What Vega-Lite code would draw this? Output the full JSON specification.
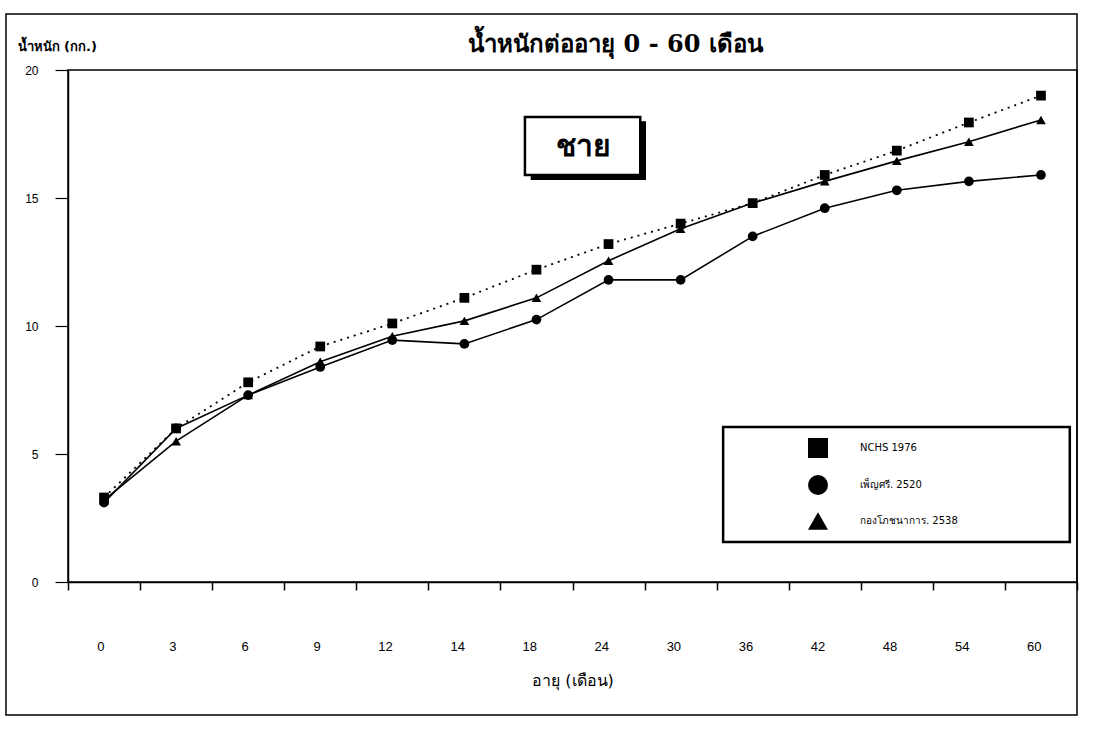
{
  "$schema": "https://vega.github.io/schema/vega-lite/v6.json",
  "width": 1009,
  "height": 512,
  "autosize": {"type": "none"},
  "padding": {"left": 68, "top": 70, "right": 30, "bottom": 148},
  "background": "white",
  "title": {
    "text": "น้ำหนักต่ออายุ 0 - 60 เดือน",
    "font": "DejaVu Serif",
    "fontSize": 24,
    "fontWeight": "bold",
    "color": "black",
    "anchor": "middle",
    "frame": "group",
    "dx": 43,
    "dy": 54,
    "offset": 10
  },
  "config": {
    "view": {"stroke": "black", "strokeWidth": 1.5},
    "axis": {"domainColor": "black", "tickColor": "black", "labelColor": "black", "titleColor": "black", "grid": false}
  },
  "datasets": {
    "weights": [
      {"age": 0, "series": "NCHS 1976", "kg": 3.3},
      {"age": 3, "series": "NCHS 1976", "kg": 6.0},
      {"age": 6, "series": "NCHS 1976", "kg": 7.8},
      {"age": 9, "series": "NCHS 1976", "kg": 9.2},
      {"age": 12, "series": "NCHS 1976", "kg": 10.1},
      {"age": 14, "series": "NCHS 1976", "kg": 11.1},
      {"age": 18, "series": "NCHS 1976", "kg": 12.2},
      {"age": 24, "series": "NCHS 1976", "kg": 13.2},
      {"age": 30, "series": "NCHS 1976", "kg": 14.0},
      {"age": 36, "series": "NCHS 1976", "kg": 14.8},
      {"age": 42, "series": "NCHS 1976", "kg": 15.9},
      {"age": 48, "series": "NCHS 1976", "kg": 16.85},
      {"age": 54, "series": "NCHS 1976", "kg": 17.95},
      {"age": 60, "series": "NCHS 1976", "kg": 19.0},
      {"age": 0, "series": "เพ็ญศรี. 2520", "kg": 3.1},
      {"age": 3, "series": "เพ็ญศรี. 2520", "kg": 6.0},
      {"age": 6, "series": "เพ็ญศรี. 2520", "kg": 7.3},
      {"age": 9, "series": "เพ็ญศรี. 2520", "kg": 8.4},
      {"age": 12, "series": "เพ็ญศรี. 2520", "kg": 9.45},
      {"age": 14, "series": "เพ็ญศรี. 2520", "kg": 9.3},
      {"age": 18, "series": "เพ็ญศรี. 2520", "kg": 10.25},
      {"age": 24, "series": "เพ็ญศรี. 2520", "kg": 11.8},
      {"age": 30, "series": "เพ็ญศรี. 2520", "kg": 11.8},
      {"age": 36, "series": "เพ็ญศรี. 2520", "kg": 13.5},
      {"age": 42, "series": "เพ็ญศรี. 2520", "kg": 14.6},
      {"age": 48, "series": "เพ็ญศรี. 2520", "kg": 15.3},
      {"age": 54, "series": "เพ็ญศรี. 2520", "kg": 15.65},
      {"age": 60, "series": "เพ็ญศรี. 2520", "kg": 15.9},
      {"age": 0, "series": "กองโภชนาการ. 2538", "kg": 3.2},
      {"age": 3, "series": "กองโภชนาการ. 2538", "kg": 5.5},
      {"age": 6, "series": "กองโภชนาการ. 2538", "kg": 7.3},
      {"age": 9, "series": "กองโภชนาการ. 2538", "kg": 8.6},
      {"age": 12, "series": "กองโภชนาการ. 2538", "kg": 9.6},
      {"age": 14, "series": "กองโภชนาการ. 2538", "kg": 10.2},
      {"age": 18, "series": "กองโภชนาการ. 2538", "kg": 11.1},
      {"age": 24, "series": "กองโภชนาการ. 2538", "kg": 12.55},
      {"age": 30, "series": "กองโภชนาการ. 2538", "kg": 13.8},
      {"age": 36, "series": "กองโภชนาการ. 2538", "kg": 14.8},
      {"age": 42, "series": "กองโภชนาการ. 2538", "kg": 15.65},
      {"age": 48, "series": "กองโภชนาการ. 2538", "kg": 16.45},
      {"age": 54, "series": "กองโภชนาการ. 2538", "kg": 17.2},
      {"age": 60, "series": "กองโภชนาการ. 2538", "kg": 18.05}
    ]
  },
  "data": {"name": "weights"},
  "layer": [
    {
      "mark": {"type": "rect", "fill": null, "stroke": "black", "strokeWidth": 1.5},
      "encoding": {
        "x": {"value": -62},
        "x2": {"value": 1009},
        "y": {"value": -56},
        "y2": {"value": 645}
      },
      "data": {"values": [{"frame": 1}]}
    },
    {
      "data": {"values": [{"box": "ชาย"}]},
      "layer": [
        {
          "mark": {"type": "rect", "fill": "black"},
          "encoding": {
            "x": {"datum": 18, "type": "ordinal", "bandPosition": 0.42},
            "x2": {"datum": 30, "bandPosition": 0.02},
            "y": {"datum": 18.0, "type": "quantitative"},
            "y2": {"datum": 15.7}
          }
        },
        {
          "mark": {"type": "rect", "fill": "white", "stroke": "black", "strokeWidth": 2.5},
          "encoding": {
            "x": {"datum": 18, "type": "ordinal", "bandPosition": 0.34},
            "x2": {"datum": 24, "bandPosition": 0.94},
            "y": {"datum": 18.16, "type": "quantitative"},
            "y2": {"datum": 15.9}
          }
        },
        {
          "mark": {"type": "text", "font": "DejaVu Serif", "fontSize": 30, "fontWeight": "bold", "baseline": "middle", "align": "center", "color": "black"},
          "encoding": {
            "x": {"datum": 24, "type": "ordinal", "bandPosition": 0.15},
            "y": {"datum": 17.0, "type": "quantitative"},
            "text": {"field": "box"}
          }
        }
      ]
    },
    {
      "data": {"values": [{"legendbox": 1}]},
      "mark": {"type": "rect", "fill": null, "stroke": "black", "strokeWidth": 2.5},
      "encoding": {
        "x": {"datum": 36, "type": "ordinal", "bandPosition": 0.09},
        "x2": {"datum": 60, "bandPosition": 0.9},
        "y": {"datum": 6.05, "type": "quantitative"},
        "y2": {"datum": 1.56}
      }
    },
    {
      "transform": [{"filter": "datum.series === 'NCHS 1976'"}],
      "mark": {"type": "line", "color": "black", "strokeWidth": 1.8, "strokeDash": [2, 5]},
      "encoding": {
        "x": {
          "field": "age",
          "type": "ordinal",
          "bandPosition": 0.5,
          "scale": {"type": "band", "paddingInner": 0, "paddingOuter": 0},
          "axis": {
            "title": "อายุ (เดือน)",
            "titleFont": "DejaVu Sans",
            "titleFontSize": 16,
            "titleFontWeight": "normal",
            "titleY": 90,
            "labelAngle": 0,
            "labelFont": "Liberation Sans",
            "labelFontSize": 13,
            "labelPadding": 56,
            "tickBand": "extent",
            "tickSize": 8,
            "tickWidth": 1.5,
            "domainWidth": 1.5
          }
        },
        "y": {
          "field": "kg",
          "type": "quantitative",
          "scale": {"domain": [0, 20], "nice": false},
          "axis": {
            "values": [0, 5, 10, 15, 20],
            "title": "น้ำหนัก (กก.)",
            "titleAngle": 0,
            "titleAlign": "left",
            "titleBaseline": "middle",
            "titleX": -51,
            "titleY": -24,
            "titleFont": "DejaVu Sans",
            "titleFontSize": 13,
            "titleFontWeight": "bold",
            "labelFont": "Liberation Sans",
            "labelFontSize": 12,
            "labelPadding": 17,
            "tickSize": 13,
            "tickWidth": 1.2,
            "domainWidth": 1.5
          }
        }
      }
    },
    {
      "transform": [{"filter": "datum.series !== 'NCHS 1976'"}],
      "mark": {"type": "line", "color": "black", "strokeWidth": 1.6},
      "encoding": {
        "x": {"field": "age", "type": "ordinal", "bandPosition": 0.5},
        "y": {"field": "kg", "type": "quantitative"},
        "detail": {"field": "series"}
      }
    },
    {
      "mark": {"type": "point", "filled": true, "color": "black", "opacity": 1, "size": 95},
      "encoding": {
        "x": {"field": "age", "type": "ordinal", "bandPosition": 0.5},
        "y": {"field": "kg", "type": "quantitative"},
        "shape": {
          "field": "series",
          "type": "nominal",
          "scale": {"domain": ["NCHS 1976", "เพ็ญศรี. 2520", "กองโภชนาการ. 2538"], "range": ["square", "circle", "triangle-up"]},
          "legend": {
            "title": null,
            "orient": "none",
            "legendX": 739,
            "legendY": 367,
            "padding": 0,
            "symbolSize": 400,
            "labelOffset": 31,
            "rowPadding": 11,
            "labelFont": "DejaVu Sans",
            "labelFontSize": 10,
            "labelColor": "black"
          }
        }
      }
    }
  ]
}
